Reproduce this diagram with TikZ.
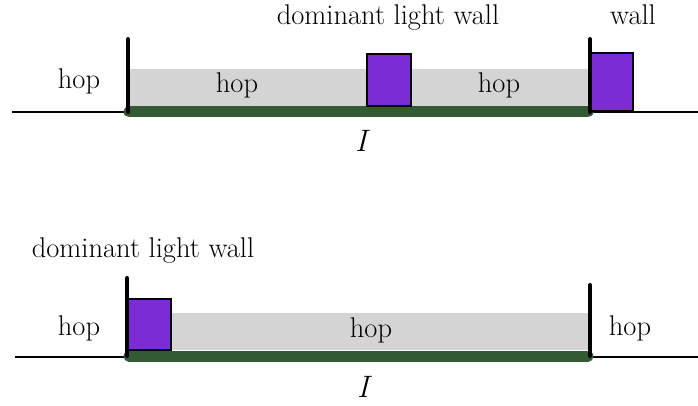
\documentclass[tikz,border=0pt]{standalone}
\usepackage{fontspec}
\setmainfont{Latin Modern Roman}
\definecolor{barGreen}{RGB}{51,90,53}
\definecolor{fillGray}{RGB}{212,212,212}
\definecolor{wallPurple}{RGB}{123,45,211}
\tikzset{
  base line/.style={line width=1.5pt, black},
  green bar/.style={line width=11pt, line cap=round, barGreen},
  gray region/.style={fill=fillGray, draw=none},
  light box/.style={fill=wallPurple, draw=black, line width=1.5pt},
  wall line/.style={line width=4pt, line cap=round, black},
  lbl/.style={anchor=base, inner sep=0pt, font=\rmfamily\fontsize{28.5}{34}\selectfont},
  ilbl/.style={anchor=base, inner sep=0pt, font=\rmfamily\fontsize{31}{36}\selectfont\itshape},
}
\begin{document}
\begin{tikzpicture}[x=1pt, y=-1pt]
\useasboundingbox (0,0) rectangle (698,406);
% ---------- top panel ----------
\coordinate (tL0) at (12,112);
\coordinate (tL1) at (129,112);
\coordinate (tR0) at (588,112);
\coordinate (tR1) at (698,112);
\draw[base line] (tL0) -- (tL1);
\draw[base line] (tR0) -- (tR1);
\fill[gray region] (128,69) rectangle (589,107);
\draw[green bar] (tL1) -- (tR0);
\draw[light box] (367,54) rectangle (411,106);
\draw[light box] (590,53) rectangle (633,111);
\coordinate (twl) at (128,39);
\coordinate (twr) at (590,39);
\draw[wall line] (twl) -- (128,112);
\draw[wall line] (twr) -- (590,112);
\node[lbl] (th1) at (79,89) {hop};
\node[lbl] (th2) at (237,93) {hop};
\node[lbl] (th3) at (499,93) {hop};
\node[lbl] (tdl) at (388,25) {dominant light wall};
\node[lbl] (tw) at (633,25) {wall};
\node[ilbl] (tI) at (361,152) {I};
% ---------- bottom panel ----------
\coordinate (bL0) at (15,357);
\coordinate (bL1) at (129,357);
\coordinate (bR0) at (588,357);
\coordinate (bR1) at (698,357);
\draw[base line] (bL0) -- (bL1);
\draw[base line] (bR0) -- (bR1);
\fill[gray region] (171,313) rectangle (589,350);
\draw[green bar] (129,356) -- (588,356);
\draw[light box] (128,299) rectangle (171,350);
\draw[wall line] (127,278) -- (127,356);
\draw[wall line] (590,285) -- (590,356);
\node[lbl] (bh1) at (79,335) {hop};
\node[lbl] (bh2) at (371,337) {hop};
\node[lbl] (bh3) at (630,335) {hop};
\node[lbl] (bdl) at (143,257) {dominant light wall};
\node[ilbl] (bI) at (363,397) {I};
\end{tikzpicture}
\end{document}
